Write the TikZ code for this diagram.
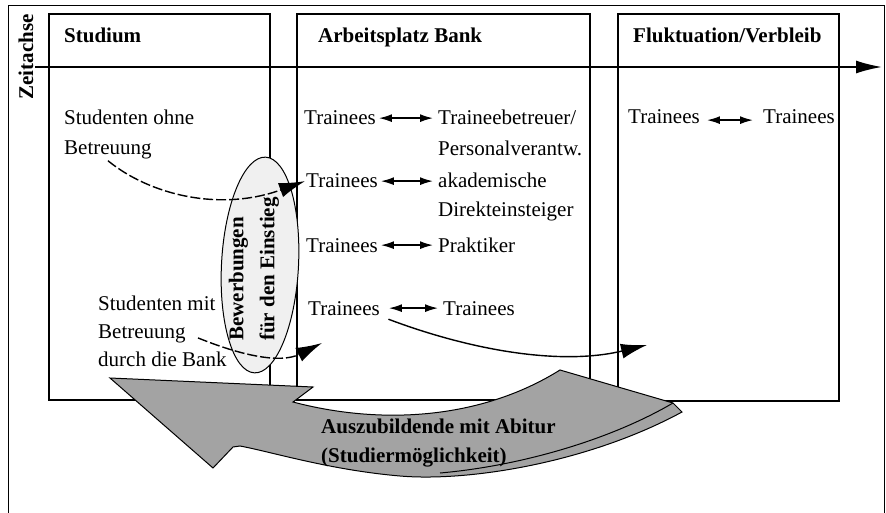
\documentclass[tikz,border=0pt]{standalone}
\usepackage{fontspec}
\setmainfont{Liberation Serif}
\usetikzlibrary{arrows.meta,shapes.geometric}
\begin{document}
\begin{tikzpicture}[x=1pt,y=-1pt,
  box/.style={draw, line width=1.6pt},
  lbl/.style={anchor=base west, inner sep=1pt, font=\fontsize{21}{28}\selectfont},
  hd/.style={anchor=base west, inner sep=1pt, font=\fontsize{21}{28}\selectfont\bfseries},
  dbl/.style={{Latex[length=13pt,width=8pt]}-{Latex[length=13pt,width=8pt]}, line width=1.5pt, shorten <=2pt, shorten >=4pt},
  flow/.style={-{Latex[length=26pt,width=15pt]}, line width=1.4pt},
  bigarrow/.style={fill=black!36, draw=black, line width=1pt, line join=miter}
]
\useasboundingbox (0,0) rectangle (886,513);
% outer frame
\draw[line width=0.8pt] (8,513) -- (8,5) -- (884,5) -- (884,513);
% boxes
\draw[box] (49,14) rectangle (270,400);
\draw[box] (297,14) rectangle (590,400);
\draw[box] (618,14) rectangle (839,401);
% time axis
\coordinate (t0) at (35,67);
\coordinate (t1) at (882,67);
\draw[line width=1.8pt, -{Latex[length=26pt,width=13pt]}] (t0) -- (t1);
\node[font=\fontsize{21}{28}\selectfont\bfseries, rotate=90, inner sep=0pt] (zeit) at (26,57) {Zeitachse};
% headers
\node[hd] (hstud) at (63,43) {Studium};
\node[hd] (harb) at (317,43) {Arbeitsplatz Bank};
\node[hd] (hflu) at (632,43) {Fluktuation/Verbleib};
% Studium texts
\node[lbl] (sob1) at (63,125) {Studenten ohne};
\node[lbl] (sob2) at (63,155) {Betreuung};
\node[lbl] (smb1) at (97,310) {Studenten mit};
\node[lbl] (smb2) at (97,338) {Betreuung};
\node[lbl] (smb3) at (97,366) {durch die Bank};
% Arbeitsplatz rows
\node[lbl] (tr1) at (303,125) {Trainees};
\node[lbl] (tb1) at (437,125) {Traineebetreuer/};
\node[lbl] (tb1b) at (437,156) {Personalverantw.};
\node[lbl] (tr2) at (305,188) {Trainees};
\node[lbl] (ak2) at (437,188) {akademische};
\node[lbl] (ak2b) at (437,217) {Direkteinsteiger};
\node[lbl] (tr3) at (305,252) {Trainees};
\node[lbl] (pr3) at (437,252) {Praktiker};
\node[lbl] (tr4) at (307,315) {Trainees};
\node[lbl] (tt4) at (442,315) {Trainees};
% Fluktuation row
\node[lbl] (fl1) at (627,124) {Trainees};
\node[lbl] (fl2) at (762,124) {Trainees};
% double arrows
\draw[dbl] (tr1.east) -- (tr1.east -| tb1.west);
\draw[dbl] (tr2.east) -- (tr2.east -| ak2.west);
\draw[dbl] (tr3.east) -- (tr3.east -| pr3.west);
\draw[dbl, shorten <=8pt] (tr4.east) -- (tr4.east -| tt4.west);
\draw[dbl, shorten <=6pt, shorten >=9pt] ([yshift=-3pt]fl1.east) -- ([yshift=-3pt]fl1.east -| fl2.west);
% ellipse
\node[draw, ellipse, line width=1pt, fill=black!6, minimum width=77pt, minimum height=216pt, inner sep=0pt, rotate=-3] (ell) at (260,265) {};
\node[rotate=90, align=left, font=\fontsize{21}{31}\selectfont\bfseries, inner sep=0pt] (bew) at (254,269) {Bewerbungen\\für den Einstieg};
% flows
\coordinate (e2) at (322,343);
\coordinate (e3) at (647,345);
\draw[flow, dash pattern=on 10pt off 3pt] (sob2.south) .. controls (150,195) and (220,212) .. (tr2.west);
\draw[flow, dash pattern=on 10pt off 3pt, shorten <=12pt] (smb2.east) .. controls (240,355) and (280,364) .. (e2);
\draw[flow, shorten <=8pt] (tr4.south east) .. controls (470,350) and (560,366) .. (e3);
% big curved arrow
\draw[bigarrow] (110,378) -- (313,387) -- (293,402)
   .. controls (380,425) and (480,420) .. (560,370)
   -- (673,403) -- (682,412)
   .. controls (590,462) and (470,482) .. (400,476)
   .. controls (330,470) and (272,452) .. (240,446)
   -- (233,447) -- (213,468) -- cycle;
\draw[line width=1pt] (673,403) .. controls (610,440) and (520,466) .. (440,473);
\node[hd] (az1) at (320,433) {Auszubildende mit Abitur};
\node[hd] (az2) at (320,462) {(Studiermöglichkeit)};
\end{tikzpicture}
\end{document}
